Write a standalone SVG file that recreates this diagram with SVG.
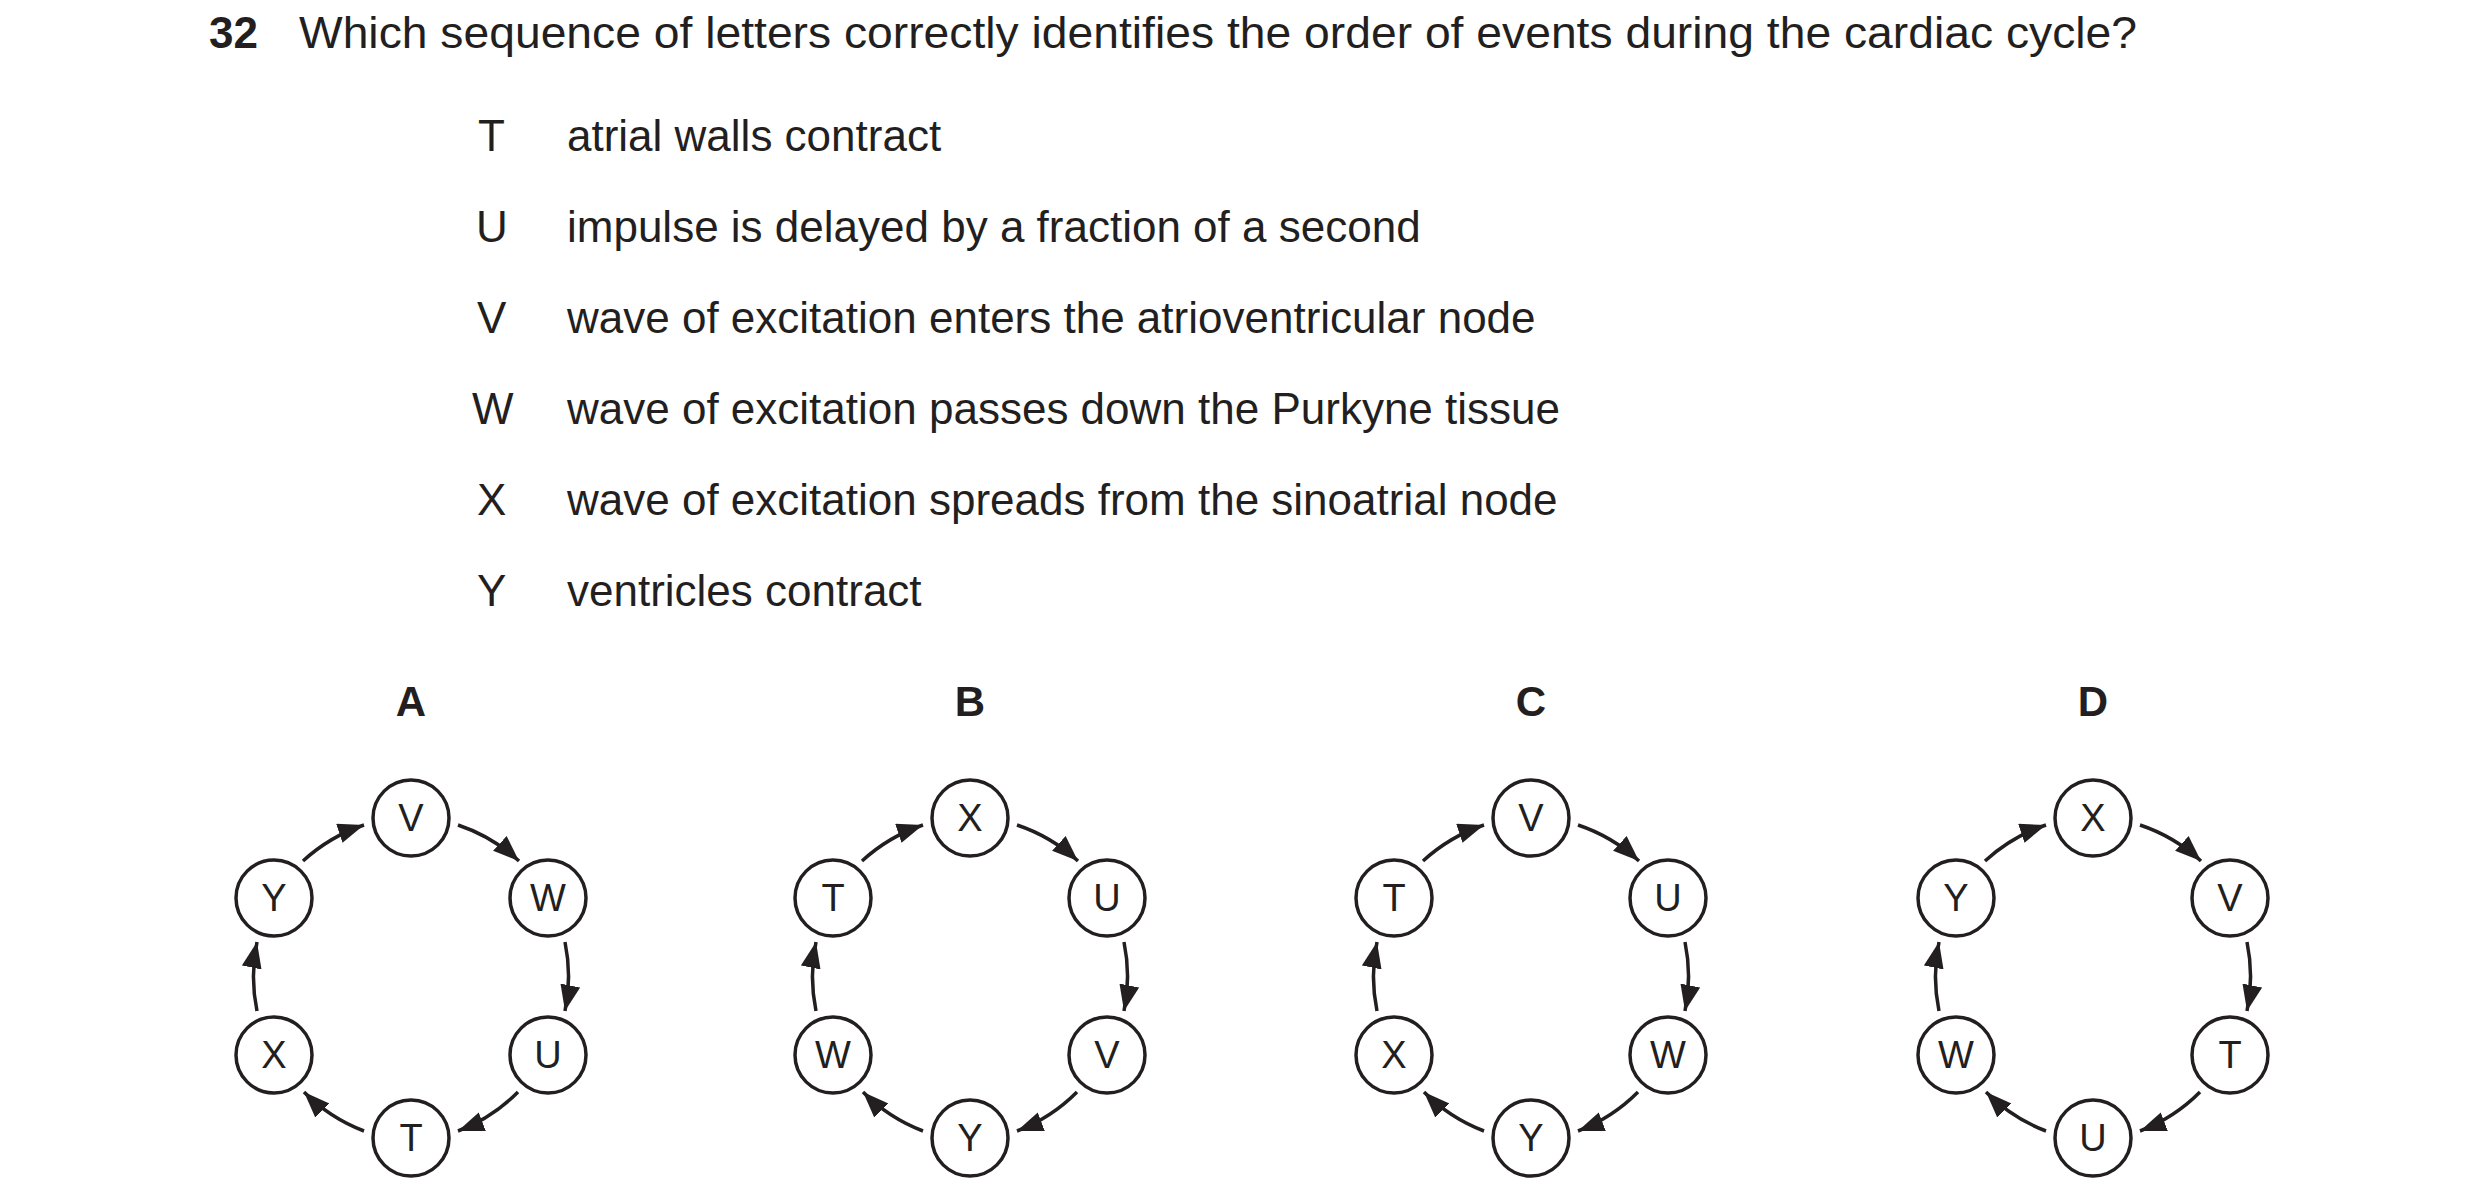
<svg xmlns="http://www.w3.org/2000/svg" width="2480" height="1204" viewBox="0 0 2480 1204">
<style>
text{font-family:"Liberation Sans",Arial,sans-serif;fill:#231f20}
.q{font-size:44px}
.b{font-weight:bold}
.n circle{fill:#fff;stroke:#231f20;stroke-width:3.5}
.n text{font-size:38px;text-anchor:middle}
.h{font-size:42px;font-weight:bold;text-anchor:middle}
.c path{fill:none;stroke:#231f20;stroke-width:3.5;marker-end:url(#ah)}
</style>
<defs>
<marker id="ah" markerUnits="userSpaceOnUse" markerWidth="30" markerHeight="24" refX="26" refY="10" orient="auto">
<path d="M0,0 L26,10 L0,20 Z" fill="#231f20"/>
</marker>
</defs>
<rect width="2480" height="1204" fill="#fff"/>
<text class="q b" x="209" y="48">32</text>
<text class="q" x="299" y="48" textLength="1838" lengthAdjust="spacingAndGlyphs">Which sequence of letters correctly identifies the order of events during the cardiac cycle?</text>
<g class="q">
<text x="478" y="151">T</text><text x="567" y="151">atrial walls contract</text>
<text x="476" y="242">U</text><text x="567" y="242">impulse is delayed by a fraction of a second</text>
<text x="477" y="333">V</text><text x="567" y="333">wave of excitation enters the atrioventricular node</text>
<text x="472" y="424">W</text><text x="567" y="424">wave of excitation passes down the Purkyne tissue</text>
<text x="477" y="515">X</text><text x="567" y="515">wave of excitation spreads from the sinoatrial node</text>
<text x="477" y="606">Y</text><text x="567" y="606">ventricles contract</text>
</g>
<g id="A" transform="translate(411,818)">
<text class="h" x="0" y="-102">A</text>
<g class="c"><path d="M47,7 A170,170 0 0 1 108,43"/><path d="M154,124 A170,170 0 0 1 154,193"/><path d="M107,274 A170,170 0 0 1 47,313"/><path d="M-47,313 A170,170 0 0 1 -107,274"/><path d="M-154,193 A170,170 0 0 1 -154,124"/><path d="M-108,43 A170,170 0 0 1 -47,7"/></g>
<g id="A-V" class="n"><circle r="38"/><text y="13">V</text></g>
<g id="A-W" class="n" transform="translate(137,80)"><circle r="38"/><text y="13">W</text></g>
<g id="A-U" class="n" transform="translate(137,237)"><circle r="38"/><text y="13">U</text></g>
<g id="A-T" class="n" transform="translate(0,320)"><circle r="38"/><text y="13">T</text></g>
<g id="A-X" class="n" transform="translate(-137,237)"><circle r="38"/><text y="13">X</text></g>
<g id="A-Y" class="n" transform="translate(-137,80)"><circle r="38"/><text y="13">Y</text></g>
</g>
<g id="B" transform="translate(970,818)">
<text class="h" x="0" y="-102">B</text>
<g class="c"><path d="M47,7 A170,170 0 0 1 108,43"/><path d="M154,124 A170,170 0 0 1 154,193"/><path d="M107,274 A170,170 0 0 1 47,313"/><path d="M-47,313 A170,170 0 0 1 -107,274"/><path d="M-154,193 A170,170 0 0 1 -154,124"/><path d="M-108,43 A170,170 0 0 1 -47,7"/></g>
<g id="B-X" class="n"><circle r="38"/><text y="13">X</text></g>
<g id="B-U" class="n" transform="translate(137,80)"><circle r="38"/><text y="13">U</text></g>
<g id="B-V" class="n" transform="translate(137,237)"><circle r="38"/><text y="13">V</text></g>
<g id="B-Y" class="n" transform="translate(0,320)"><circle r="38"/><text y="13">Y</text></g>
<g id="B-W" class="n" transform="translate(-137,237)"><circle r="38"/><text y="13">W</text></g>
<g id="B-T" class="n" transform="translate(-137,80)"><circle r="38"/><text y="13">T</text></g>
</g>
<g id="C" transform="translate(1531,818)">
<text class="h" x="0" y="-102">C</text>
<g class="c"><path d="M47,7 A170,170 0 0 1 108,43"/><path d="M154,124 A170,170 0 0 1 154,193"/><path d="M107,274 A170,170 0 0 1 47,313"/><path d="M-47,313 A170,170 0 0 1 -107,274"/><path d="M-154,193 A170,170 0 0 1 -154,124"/><path d="M-108,43 A170,170 0 0 1 -47,7"/></g>
<g id="C-V" class="n"><circle r="38"/><text y="13">V</text></g>
<g id="C-U" class="n" transform="translate(137,80)"><circle r="38"/><text y="13">U</text></g>
<g id="C-W" class="n" transform="translate(137,237)"><circle r="38"/><text y="13">W</text></g>
<g id="C-Y" class="n" transform="translate(0,320)"><circle r="38"/><text y="13">Y</text></g>
<g id="C-X" class="n" transform="translate(-137,237)"><circle r="38"/><text y="13">X</text></g>
<g id="C-T" class="n" transform="translate(-137,80)"><circle r="38"/><text y="13">T</text></g>
</g>
<g id="D" transform="translate(2093,818)">
<text class="h" x="0" y="-102">D</text>
<g class="c"><path d="M47,7 A170,170 0 0 1 108,43"/><path d="M154,124 A170,170 0 0 1 154,193"/><path d="M107,274 A170,170 0 0 1 47,313"/><path d="M-47,313 A170,170 0 0 1 -107,274"/><path d="M-154,193 A170,170 0 0 1 -154,124"/><path d="M-108,43 A170,170 0 0 1 -47,7"/></g>
<g id="D-X" class="n"><circle r="38"/><text y="13">X</text></g>
<g id="D-V" class="n" transform="translate(137,80)"><circle r="38"/><text y="13">V</text></g>
<g id="D-T" class="n" transform="translate(137,237)"><circle r="38"/><text y="13">T</text></g>
<g id="D-U" class="n" transform="translate(0,320)"><circle r="38"/><text y="13">U</text></g>
<g id="D-W" class="n" transform="translate(-137,237)"><circle r="38"/><text y="13">W</text></g>
<g id="D-Y" class="n" transform="translate(-137,80)"><circle r="38"/><text y="13">Y</text></g>
</g>
</svg>
